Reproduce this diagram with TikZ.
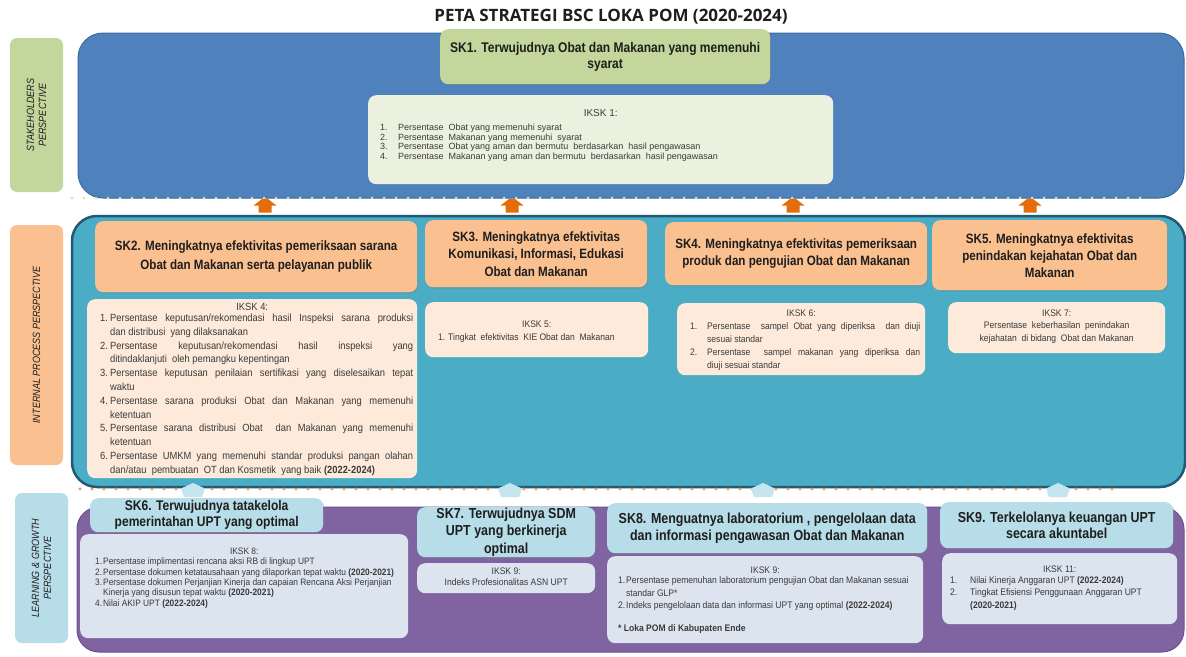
\documentclass[tikz,border=0pt]{standalone}
\usepackage{fontspec}
\setmainfont{Liberation Sans}
\newfontfamily\hdf[FakeStretch=0.86]{Liberation Sans}
\newfontfamily\smf[FakeStretch=0.9]{Liberation Sans}
\newfontfamily\rgf{Liberation Sans}
\newfontfamily\ttlf{Open Sans}
\usetikzlibrary{shadows}
\definecolor{cBlue}{HTML}{4F81BD}
\definecolor{cBlueD}{HTML}{3A6A9E}
\definecolor{cTeal}{HTML}{4BACC6}
\definecolor{cTealD}{HTML}{215A76}
\definecolor{cPurp}{HTML}{8064A2}
\definecolor{cPurpD}{HTML}{6A5290}
\definecolor{cGreen}{HTML}{C3D69B}
\definecolor{cGreenL}{HTML}{EBF1DE}
\definecolor{cOr}{HTML}{FAC090}
\definecolor{cOrL}{HTML}{FDEADA}
\definecolor{cLB}{HTML}{B7DDE8}
\definecolor{cLBA}{HTML}{C5E5EF}
\definecolor{cLav}{HTML}{DCE4F0}
\definecolor{cArr}{HTML}{E46C0A}
\definecolor{cDotO}{HTML}{F79646}
\definecolor{cDotG}{HTML}{D7E4BD}
\definecolor{cTxt}{HTML}{1E1E1E}
\definecolor{cTxtL}{HTML}{3A3A3A}
\newcommand\bxc[3]{\begin{minipage}[c][#2pt][c]{#1pt}\centering #3\par\end{minipage}}
\newcommand\bxt[4]{\begin{minipage}[c][#2pt][t]{#1pt}\vspace*{#3pt}#4\par\end{minipage}}
\newcommand\itm[2]{\par\hangindent=#1pt\hangafter=1\noindent\makebox[#1pt][l]{#2}\ignorespaces}
\newcommand\hfont[2]{\hdf\bfseries\fontsize{#1}{#2}\selectfont\color{cTxt}}
\newcommand\sfont[2]{\smf\fontsize{#1}{#2}\selectfont\color{cTxtL}}
\begin{document}
\begin{tikzpicture}[x=1pt,y=-1pt,
  box/.style={anchor=north west, inner sep=0pt, rounded corners=8pt},
  sh/.style={drop shadow={opacity=0.28, shadow xshift=1.2pt, shadow yshift=-1.6pt}},
  lbl/.style={rounded corners=7pt, inner sep=0pt, rotate=90, align=center,
    font=\hdf\itshape\fontsize{10.5}{12}\selectfont, text=cTxt}]
\useasboundingbox (0,0) rectangle (1186,656);
\fill[white] (0,0) rectangle (1186,656);
% title
\node[font=\ttlf\bfseries\fontsize{17}{20}\selectfont, text=cTxt] (title) at (611,17) {PETA STRATEGI BSC LOKA POM (2020-2024)};
% bands
\draw[fill=cBlue, draw=cBlueD, line width=1pt, rounded corners=25pt] (78,33) rectangle (1184,198);
\draw[fill=cTeal, draw=cTealD, line width=2.5pt, rounded corners=25pt] (72,216) rectangle (1185,487);
\draw[fill=cPurp, draw=cPurpD, line width=1pt, rounded corners=22pt] (77,507) rectangle (1184,652);
% dotted lines
\foreach \x in {72,84,...,1140} \fill[cDotG] (\x,198) circle (1.5pt);
\foreach \x in {80,92,...,1120} \fill[cDotO] (\x,489) circle (1.6pt);
% arrows
\foreach \c in {265,512,793,1030}
  \fill[cArr] (\c-3,199) -- (\c+3,199) -- (\c+11.5,205.5) -- (\c+6.5,205.5) -- (\c+6.5,212.5)
     -- (\c-6.5,212.5) -- (\c-6.5,205.5) -- (\c-11.5,205.5) -- cycle;
\foreach \c in {193,510,763,1058}
  \fill[cLBA] (\c,483) -- (\c+12,488.5) -- (\c+9,497) -- (\c-9,497) -- (\c-12,488.5) -- cycle;
% perspective labels
\node[lbl, fill=cGreen, minimum width=154pt, minimum height=53pt] (pS) at (36.5,115) {STAKEHOLDERS\\PERSPECTIVE};
\node[lbl, fill=cOr, minimum width=240pt, minimum height=53pt] (pI) at (36.5,345) {INTERNAL PROCESS PERSPECTIVE};
\node[lbl, fill=cLB, minimum width=150pt, minimum height=53pt] (pL) at (41.5,568) {LEARNING \& GROWTH\\PERSPECTIVE};
% ---- stakeholders
\node[box, fill=cGreen, sh] (sk1) at (440,29) {\bxc{330}{55}{\hfont{14}{16}SK1. Terwujudnya Obat dan Makanan yang memenuhi\\syarat}};
\node[box, fill=cGreenL] (ik1) at (368,95) {\bxt{465}{89}{14.5}{\rgf\fontsize{9}{9.6}\selectfont\color{cTxtL}{\centering\fontsize{10}{9.6}\selectfont IKSK 1:\par}\vspace{4.3pt}\raggedright\leftskip=12pt
 \itm{18}{1.}Persentase\ \ Obat yang memenuhi syarat
 \itm{18}{2.}Persentase\ \ Makanan yang memenuhi\ \ syarat
 \itm{18}{3.}Persentase\ \ Obat yang aman dan bermutu\ \ berdasarkan\ \ hasil pengawasan
 \itm{18}{4.}Persentase\ \ Makanan yang aman dan bermutu\ \ berdasarkan\ \ hasil pengawasan}};
% ---- internal process
\node[box, fill=cOr, sh] (sk2) at (95,221) {\bxc{322}{71}{\hfont{13.5}{19}SK2. Meningkatnya efektivitas pemeriksaan sarana\\Obat dan Makanan serta pelayanan publik}};
\node[box, fill=cOrL] (ik4) at (87,299) {\bxt{330}{179}{4}{\sfont{10.4}{13.8}{\centering IKSK 4:\par}\vspace{-2.8pt}\leftskip=13pt\rightskip=4pt
 \itm{10}{1.}Persentase keputusan/rekomendasi hasil Inspeksi sarana produksi\linebreak dan distribusi\ \ yang dilaksanakan
 \itm{10}{2.}Persentase keputusan/rekomendasi hasil inspeksi yang\linebreak ditindaklanjuti\ \ oleh pemangku kepentingan
 \itm{10}{3.}Persentase keputusan penilaian sertifikasi yang diselesaikan tepat\linebreak waktu
 \itm{10}{4.}Persentase sarana produksi Obat dan Makanan yang memenuhi\linebreak ketentuan
 \itm{10}{5.}Persentase sarana distribusi Obat\ \ dan Makanan yang memenuhi\linebreak ketentuan
 \itm{10}{6.}Persentase UMKM yang memenuhi standar produksi pangan olahan\linebreak dan/atau\ \ pembuatan\ \ OT dan Kosmetik\ \ yang baik \textbf{(2022-2024)}}};
\node[box, fill=cOr, sh] (sk3) at (425,220) {\bxc{222}{67}{\hfont{13.5}{17.5}SK3. Meningkatnya efektivitas\\Komunikasi, Informasi, Edukasi\\Obat dan Makanan}};
\node[box, fill=cOrL] (ik5) at (425,302) {\bxt{223}{55}{18.5}{\sfont{9.5}{13}{\centering IKSK 5:\par}\raggedright\leftskip=13pt
 \itm{10}{1.}Tingkat\ \ efektivitas\ \ KIE Obat dan\ \ Makanan}};
\node[box, fill=cOr, sh] (sk4) at (665,222) {\bxc{262}{63}{\hfont{13.5}{17}SK4. Meningkatnya efektivitas pemeriksaan\\produk dan pengujian Obat dan Makanan}};
\node[box, fill=cOrL] (ik6) at (677,303) {\bxt{248}{72}{6.5}{\sfont{9.5}{13}{\centering IKSK 6:\par}\leftskip=13pt\rightskip=5pt
 \itm{17}{1.}Persentase\ \ sampel Obat yang diperiksa\ \ dan diuji\linebreak sesuai standar
 \itm{17}{2.}Persentase\ \ sampel makanan yang diperiksa dan\linebreak diuji sesuai standar}};
\node[box, fill=cOr, sh] (sk5) at (932,220) {\bxc{235}{70}{\hfont{13.5}{17}SK5. Meningkatnya efektivitas\\penindakan kejahatan Obat dan\\Makanan}};
\node[box, fill=cOrL] (ik7) at (948,302) {\bxt{217}{51}{7.5}{\sfont{9.5}{12.5}\centering IKSK 7:\\Persentase\ \ keberhasilan\ \ penindakan\\kejahatan\ \ di bidang\ \ Obat dan Makanan}};
% ---- learning & growth
\node[box, fill=cLB, sh] (sk6) at (90,498) {\bxc{233}{34}{\hfont{14}{16}SK6. Terwujudnya tatakelola\\pemerintahan UPT yang optimal}};
\node[box, fill=cLav] (ik8) at (80,534) {\bxt{328}{104}{13.5}{\sfont{9.3}{10.4}{\centering IKSK 8:\par}\raggedright\leftskip=15pt
 \itm{8}{1.}Persentase implimentasi rencana aksi RB di lingkup UPT
 \itm{8}{2.}Persentase dokumen ketatausahaan yang dilaporkan tepat waktu \textbf{(2020-2021)}
 \itm{8}{3.}Persentase dokumen Perjanjian Kinerja dan capaian Rencana Aksi Perjanjian\newline Kinerja yang disusun tepat waktu \textbf{(2020-2021)}
 \itm{8}{4.}Nilai AKIP UPT \textbf{(2022-2024)}}};
\node[box, fill=cLB, sh] (sk7) at (417,507) {\bxc{178}{50}{\hfont{14.5}{17.5}SK7. Terwujudnya SDM\\UPT yang berkinerja\\optimal}};
\node[box, fill=cLav] (ik9a) at (417,563) {\bxt{178}{30}{5}{\sfont{9.5}{11}\centering IKSK 9:\\Indeks Profesionalitas ASN UPT}};
\node[box, fill=cLB, sh] (sk8) at (607,503) {\bxc{320}{50}{\hfont{14.5}{16.5}SK8. Menguatnya laboratorium , pengelolaan data\\dan informasi pengawasan Obat dan Makanan}};
\node[box, fill=cLav] (ik9b) at (607,556) {\bxt{316}{87}{10.5}{\sfont{9.5}{12.5}{\centering IKSK 9:\par}\vspace{-2pt}\raggedright\leftskip=11pt
 \itm{8}{1.}Persentase pemenuhan laboratorium pengujian Obat dan Makanan sesuai\newline standar GLP*
 \itm{8}{2.}Indeks pengelolaan data dan informasi UPT yang optimal \textbf{(2022-2024)}\par
 \vspace{10pt}\noindent\textbf{* Loka POM di Kabupaten Ende}}};
\node[box, fill=cLB, sh] (sk9) at (940,502) {\bxc{233}{46}{\hfont{14.5}{15.5}SK9. Terkelolanya keuangan UPT\\secara akuntabel}};
\node[box, fill=cLav] (ik11) at (942,553) {\bxt{235}{71}{12.5}{\sfont{9.5}{12.5}{\centering IKSK 11:\par}\vspace{-1.5pt}\raggedright\leftskip=8pt
 \itm{20}{1.}Nilai Kinerja Anggaran UPT \textbf{(2022-2024)}
 \itm{20}{2.}Tingkat Efisiensi Penggunaan Anggaran UPT\newline\textbf{(2020-2021)}}};
\end{tikzpicture}
\end{document}
